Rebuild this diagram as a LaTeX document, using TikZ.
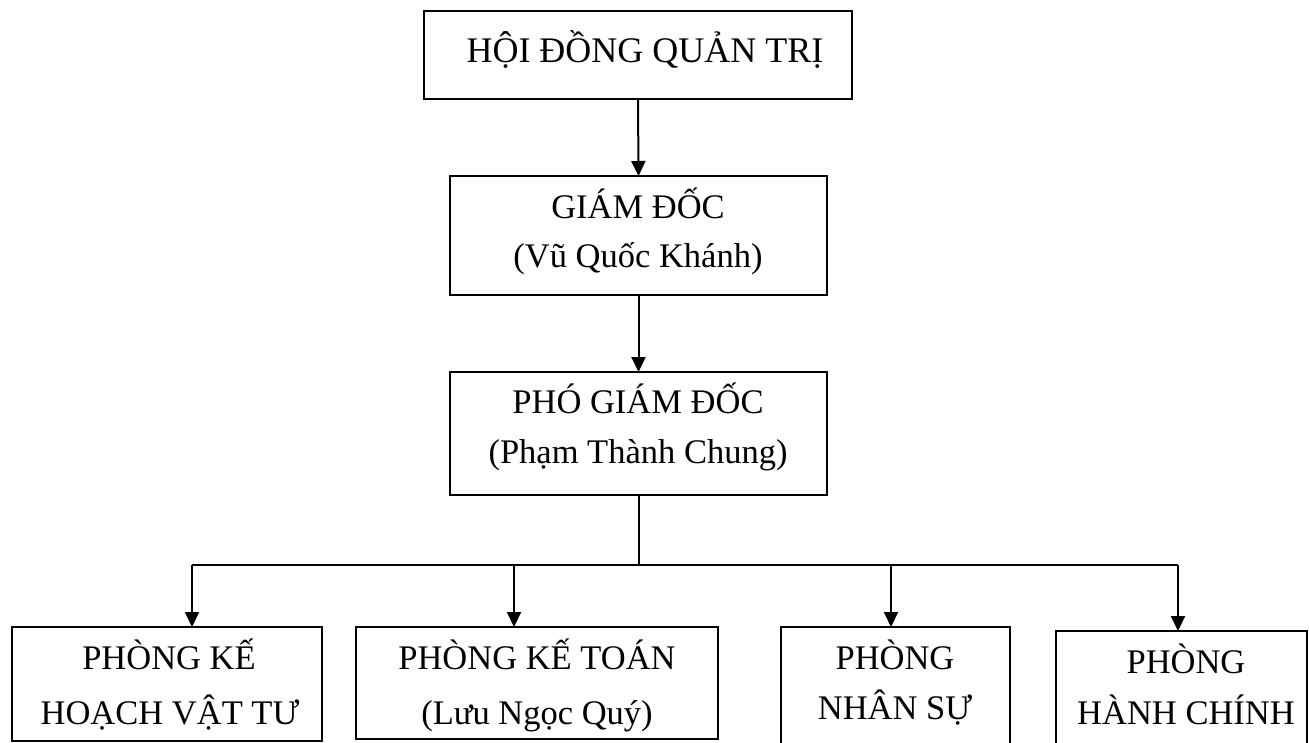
\documentclass[tikz,border=0pt]{standalone}
\usepackage{fontspec}
\setmainfont{Liberation Serif}
\usetikzlibrary{arrows.meta}
\begin{document}
\begin{tikzpicture}[x=1pt,y=-1pt,
  box/.style={draw, line width=2pt, inner sep=0pt, outer sep=0pt, anchor=north west},
  txt/.style={anchor=base, inner sep=0pt, font=\fontsize{34.5}{50}\selectfont},
  bigtxt/.style={txt, font=\fontsize{36}{50}\selectfont},
  arr/.style={line width=2pt, -{Triangle[width=14pt,length=15pt]}},
  link/.style={line width=1.3pt},
  bus/.style={line width=2pt}]
\useasboundingbox (0,0) rectangle (1309,742);

% boxes
\node[box, minimum width=428pt, minimum height=88pt]  (hd)  at (424,11)  {};
\node[box, minimum width=377pt, minimum height=119pt] (gd)  at (450,176) {};
\node[box, minimum width=377pt, minimum height=123pt] (pgd) at (450,372) {};
\node[box, minimum width=310pt, minimum height=114pt] (kh)  at (12,627)  {};
\node[box, minimum width=362pt, minimum height=112pt] (kt)  at (356,627) {};
\node[box, minimum width=229pt, minimum height=140pt] (ns)  at (781,627) {};
\node[box, minimum width=251pt, minimum height=140pt] (hc)  at (1056,631) {};

% texts
\node[bigtxt] (hdt) at (645,62) {HỘI ĐỒNG QUẢN TRỊ};
\node[txt] (gdt1) at (638,218) {GIÁM ĐỐC};
\node[txt] (gdt2) at (638,267) {(Vũ Quốc Khánh)};
\node[txt] (pgt1) at (638,413) {PHÓ GIÁM ĐỐC};
\node[txt] (pgt2) at (638,463) {(Phạm Thành Chung)};
\node[txt] (kht1) at (169,669) {PHÒNG KẾ};
\node[txt] (kht2) at (170,724) {HOẠCH VẬT TƯ};
\node[txt] (ktt1) at (537,669) {PHÒNG KẾ TOÁN};
\node[txt] (ktt2) at (537,724) {(Lưu Ngọc Quý)};
\node[txt] (nst1) at (895,669) {PHÒNG};
\node[txt] (nst2) at (895,719) {NHÂN SỰ};
\node[txt] (hct1) at (1186,673) {PHÒNG};
\node[txt] (hct2) at (1186,724) {HÀNH CHÍNH};

% connectors
\draw[arr] (hd.south) -- (gd.north);
\draw[arr] (gd.south) -- (pgd.north);

\coordinate (j)  at (639,565);
\coordinate (t1) at (192,565);
\coordinate (t2) at (514,565);
\coordinate (t3) at (891,565);
\coordinate (t4) at (1178,565);

\draw[link] (pgd.south -| j) -- (j);
\draw[bus] (t1) -- (t4);
\draw[arr] (t1) -- (t1 |- kh.north);
\draw[arr] (t2) -- (t2 |- kt.north);
\draw[arr] (t3) -- (t3 |- ns.north);
\draw[arr] (t4) -- (t4 |- hc.north);
\end{tikzpicture}
\end{document}
